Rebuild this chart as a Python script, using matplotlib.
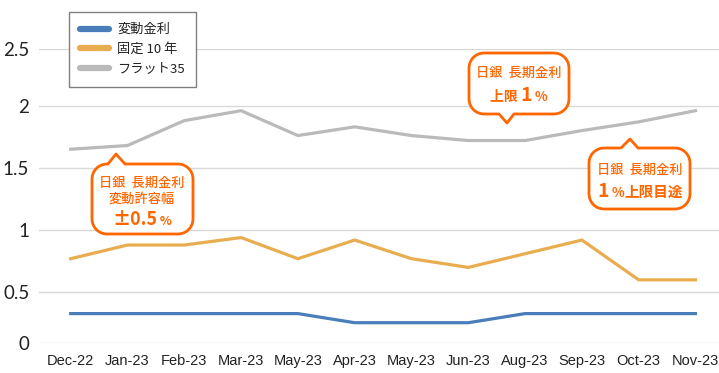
import numpy as np
import matplotlib
matplotlib.use('Agg')
import matplotlib.pyplot as plt
from matplotlib.patches import Polygon
from matplotlib.lines import Line2D

plt.rcParams['font.family'] = ['Noto Sans CJK JP', 'DejaVu Sans']

# data
months = ['Dec-22', 'Jan-23', 'Feb-23', 'Mar-23', 'May-23', 'Apr-23',
          'May-23', 'Jun-23', 'Aug-23', 'Sep-23', 'Oct-23', 'Nov-23']
variable_rate = [0.29, 0.29, 0.29, 0.29, 0.29, 0.20, 0.20, 0.20, 0.29, 0.29, 0.29, 0.29]
fixed_10y = [0.77, 0.88, 0.88, 0.94, 0.77, 0.92, 0.77, 0.70, 0.81, 0.92, 0.60, 0.60]
flat_35 = [1.65, 1.68, 1.88, 1.96, 1.76, 1.83, 1.76, 1.72, 1.72, 1.80, 1.87, 1.96]
series_names = ['変動金利', '固定 10 年', 'フラット35']
yticks = [0, 0.5, 1, 1.5, 2, 2.5]
ytick_labels = ['0', '0.5', '1', '1.5', '2', '2.5']

colors = ['#4a7ebb', '#e8ad4f', '#bababa']
ORANGE = '#ff6600'
W, H = 719, 373

fig = plt.figure(figsize=(W / 100, H / 100), dpi=100)
ax = fig.add_axes([39 / W, 30 / H, 680 / W, 294 / H])

# the original chart's gridlines are not evenly spaced; mimic with a piecewise scale
kv = [-1, 0, 0.5, 2.0, 2.5, 5]
kp = [-101.4, 0, 50.7, 237.3, 294, 294 + 2.5 * 113.4]
ax.set_yscale('function', functions=(lambda v: np.interp(v, kv, kp),
                                     lambda p: np.interp(p, kp, kv)))

x = np.arange(len(months))
for vals, c in zip([variable_rate, fixed_10y, flat_35], colors):
  ax.plot(x, vals, color=c, lw=2.3, solid_joinstyle='round', zorder=3)

ax.set_ylim(0, 2.5)
ax.set_xlim(-0.558, 11.414)
ax.set_yticks(yticks)
ax.set_yticklabels(ytick_labels, fontsize=13.5, family='Lato', color='#222222')
ax.set_xticks(x)
ax.set_xticklabels(months, fontsize=10.5, family='Liberation Sans', color='#222222')
ax.tick_params(axis='y', length=0, pad=7)
ax.tick_params(axis='x', length=0, pad=8)
ax.grid(axis='y', color='#d9d9d9', lw=1)
ax.set_axisbelow(True)
for s in ax.spines.values():
  s.set_visible(False)

handles = [Line2D([], [], color=c, lw=4.5, solid_capstyle='round') for c in colors]
leg = ax.legend(handles, series_names, loc='upper left',
                bbox_to_anchor=(69 / W, 1 - 12 / H), bbox_transform=fig.transFigure,
                borderaxespad=0, fancybox=False, framealpha=1, edgecolor='#808080',
                fontsize=9.5, handlelength=2.2, labelspacing=0.5, borderpad=0.85,
                handletextpad=0.6)
leg.get_frame().set_linewidth(1)
for t in leg.get_texts():
  t.set_color('#222222')
leg.set_zorder(5)

# overlay in pixel coordinates for the callouts
oax = fig.add_axes([0, 0, 1, 1], zorder=10)
oax.set_xlim(0, W)
oax.set_ylim(H, 0)
oax.set_axis_off()


def callout(x0, y0, x1, y1, r, tip, base, side):
  pts = []
  def arc(cx, cy, a0, a1):
    for a in np.linspace(np.radians(a0), np.radians(a1), 10):
      pts.append((cx + r * np.cos(a), cy + r * np.sin(a)))
  # top-left, going clockwise on screen (y downward)
  arc(x0 + r, y0 + r, 180, 270)
  if side == 'top':
    pts += [(base[0], y0), tip, (base[1], y0)]
  arc(x1 - r, y0 + r, 270, 360)
  arc(x1 - r, y1 - r, 0, 90)
  if side == 'bottom':
    pts += [(base[1], y1), tip, (base[0], y1)]
  arc(x0 + r, y1 - r, 90, 180)
  oax.add_patch(Polygon(pts, closed=True, facecolor='white', edgecolor=ORANGE,
                        lw=2, joinstyle='round'))


def put_line(cx, base_y, parts):
  texts = []
  for s, size, weight in parts:
    texts.append(oax.text(0, base_y, s, fontsize=size, fontweight=weight,
                          color=ORANGE, va='baseline', ha='left'))
  r = fig.canvas.get_renderer()
  widths = [t.get_window_extent(r).width for t in texts]
  xx = cx - sum(widths) / 2
  for t, w in zip(texts, widths):
    t.set_x(xx)
    xx += w


callout(92, 164, 193, 234, 15, (116, 154), (108, 125), 'top')
put_line(142, 186.5, [('日銀  長期金利', 9.5, 'medium')])
put_line(142, 202.5, [('変動許容幅', 9.5, 'medium')])
put_line(142, 225, [('±0.5', 13, 'bold'), (' %', 9, 'bold')])

callout(469, 53, 569, 114, 15, (507, 123), (499, 514), 'bottom')
put_line(519, 77, [('日銀  長期金利', 9.5, 'medium')])
put_line(519, 101, [('上限 ', 10, 'bold'), ('1', 14, 'bold'), (' %', 9.5, 'bold')])

callout(589, 148, 690, 209, 15, (630, 139), (621, 638), 'top')
put_line(640, 174, [('日銀  長期金利', 9.5, 'medium')])
put_line(640, 197, [('1', 14, 'bold'), (' %', 9.5, 'bold'), ('上限目途', 10.5, 'bold')])

fig.savefig('out.png', dpi=100)
